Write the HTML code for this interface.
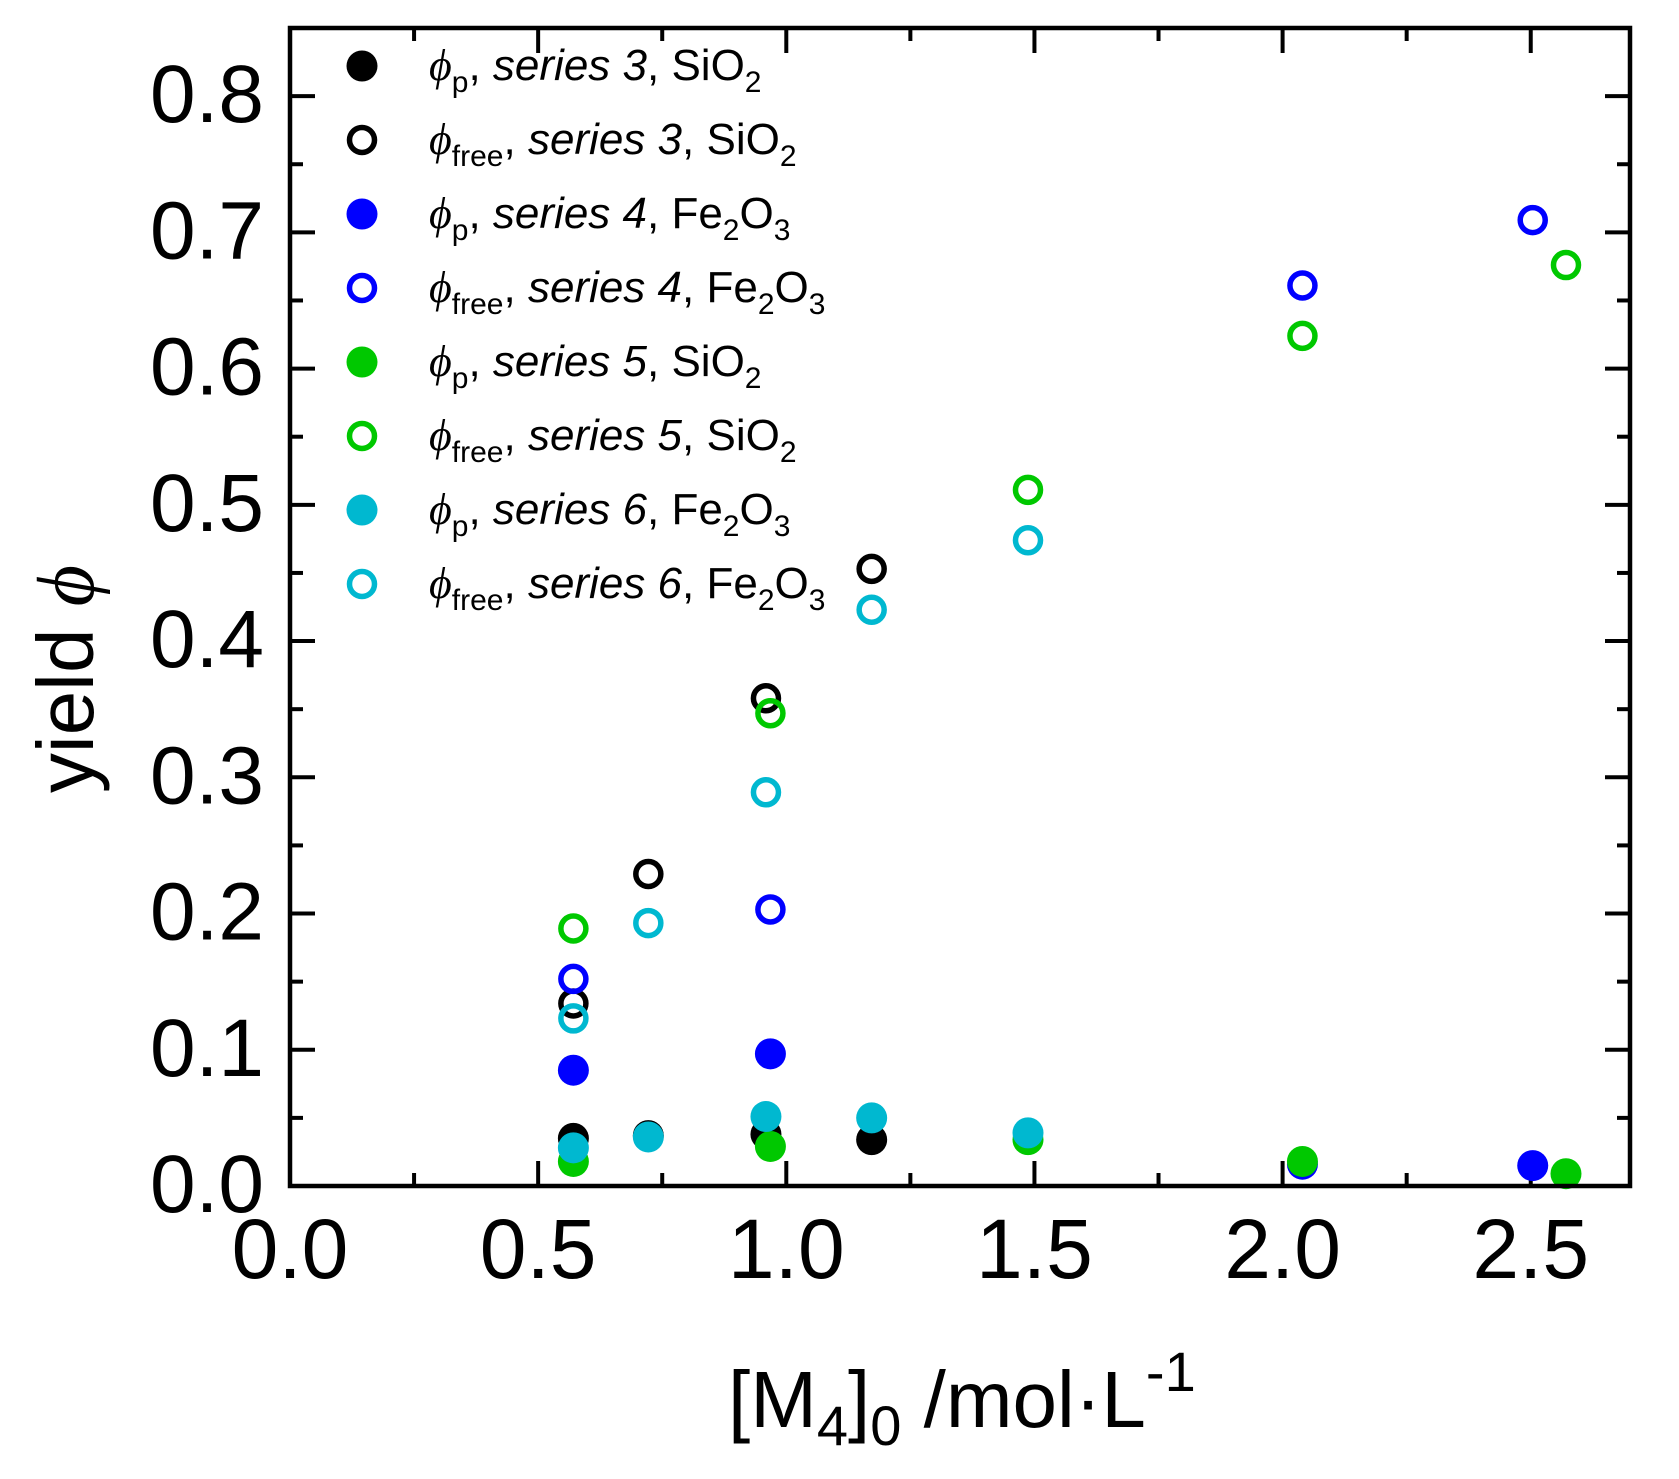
<!DOCTYPE html>
<html><head><meta charset="utf-8">
<style>
html,body{margin:0;padding:0;background:#fff;}
svg{display:block;font-family:"Liberation Sans",sans-serif;}
</style></head>
<body>
<svg id="chart" width="1679" height="1479" viewBox="0 0 1679 1479" xmlns="http://www.w3.org/2000/svg">
<g id="ticks"></g>
<g id="marks"></g>
<rect x="290" y="28" width="1340" height="1158" fill="none" stroke="#000" stroke-width="4.5"/>
<g id="legend"></g>
<text x="728" y="1427" font-size="80">[M<tspan font-size="56" dy="18">4</tspan><tspan dy="-18">]</tspan><tspan font-size="56" dy="18">0</tspan><tspan dy="-18"> /mol·L</tspan><tspan font-size="56" dy="-36">-1</tspan></text>
<text transform="translate(93,679) rotate(-90)" text-anchor="middle" font-size="80">yield <tspan font-style="italic" font-family="'Liberation Serif','DejaVu Serif',serif">ϕ</tspan></text>
</svg>
<script>
const xMin = 0, xMax = 2.7, yMin = 0, yMax = 0.85;
const xTickLabels = ["0.0","0.5","1.0","1.5","2.0","2.5"];
const yTickLabels = ["0.0","0.1","0.2","0.3","0.4","0.5","0.6","0.7","0.8"];
const seriesNames = ["series 3","series 3","series 4","series 4","series 5","series 5","series 6","series 6"];
const s3pX = [0.571,0.722,0.959,1.172];
const s3pY = [0.035,0.037,0.038,0.034];
const s3fX = [0.571,0.722,0.959,1.172];
const s3fY = [0.134,0.229,0.358,0.453];
const s4pX = [0.571,0.968,2.040,2.504];
const s4pY = [0.085,0.097,0.016,0.015];
const s4fX = [0.571,0.968,2.040,2.504];
const s4fY = [0.152,0.203,0.661,0.709];
const s5pX = [0.571,0.968,1.487,2.040,2.571];
const s5pY = [0.018,0.029,0.034,0.018,0.009];
const s5fX = [0.571,0.968,1.487,2.040,2.571];
const s5fY = [0.189,0.347,0.511,0.624,0.676];
const s6pX = [0.571,0.722,0.959,1.172,1.487];
const s6pY = [0.028,0.036,0.051,0.050,0.039];
const s6fX = [0.571,0.722,0.959,1.172,1.487];
const s6fY = [0.123,0.193,0.289,0.423,0.474];

const NS = "http://www.w3.org/2000/svg";
const L = 290, R = 1630, T = 28, B = 1186;
function xs(v){ return L + (v - xMin) / (xMax - xMin) * (R - L); }
function ys(v){ return B - (v - yMin) / (yMax - yMin) * (B - T); }
function mk(tag, attrs, parent){ const e = document.createElementNS(NS, tag); for (const k in attrs) e.setAttribute(k, attrs[k]); parent.appendChild(e); return e; }

const tg = document.getElementById("ticks");
for (let i = 0; i <= 10; i++) {
  const v = i * 0.25; if (v > xMax) break;
  const x = xs(v), len = i % 2 === 0 ? 25 : 13;
  const t1 = mk("line", {x1:x, y1:B, x2:x, y2:B-len, stroke:"#000", "stroke-width":4}, tg);
  
  
  const t2 = mk("line", {x1:x, y1:T, x2:x, y2:T+len, stroke:"#000", "stroke-width":4}, tg);
  
  
}
xTickLabels.forEach((lab, i) => {
  const t = mk("text", {x:xs(i*0.5), y:1278, "text-anchor":"middle", "font-size":84}, tg);
  t.textContent = lab;
  
  
});
for (let i = 0; i <= 17; i++) {
  const v = i * 0.05; if (v > yMax + 1e-9) break;
  const y = ys(v), len = i % 2 === 0 ? 25 : 13;
  const t1 = mk("line", {x1:L, y1:y, x2:L+len, y2:y, stroke:"#000", "stroke-width":4}, tg);
  
  
  const t2 = mk("line", {x1:R, y1:y, x2:R-len, y2:y, stroke:"#000", "stroke-width":4}, tg);
  
  
}
yTickLabels.forEach((lab, i) => {
  const t = mk("text", {x:264, y:ys(i*0.1)+26, "text-anchor":"end", "font-size":82}, tg);
  t.textContent = lab;
  
  
});

const colors = ["#000000","#000000","#0000ff","#0000ff","#00c800","#00c800","#00b8d0","#00b8d0"];
const filled = [true,false,true,false,true,false,true,false];
const allX = [s3pX,s3fX,s4pX,s4fX,s5pX,s5fX,s6pX,s6fX];
const allY = [s3pY,s3fY,s4pY,s4fY,s5pY,s5fY,s6pY,s6fY];
const mg = document.getElementById("marks");
function marker(parent, x, y, col, fill){
  if (fill) return mk("circle", {cx:x, cy:y, r:15.5, fill:col}, parent);
  return mk("circle", {cx:x, cy:y, r:12.5, fill:"none", stroke:col, "stroke-width":5.5}, parent);
}
[0,2,4,6,1,3,5,7].forEach(s => {
  allX[s].forEach((xv, j) => {
    const c = marker(mg, xs(xv), ys(allY[s][j]), colors[s], filled[s]);
    
    
  });
});

const lg = document.getElementById("legend");
const mats = [["SiO","2",""],["SiO","2",""],["Fe","2","O3"],["Fe","2","O3"],["SiO","2",""],["SiO","2",""],["Fe","2","O3"],["Fe","2","O3"]];
for (let s = 0; s < 8; s++) {
  const cy = 66 + s * 74;
  const m = marker(lg, 362, cy, colors[s], filled[s]);
  
  
  const t = mk("text", {x:429, y:cy+14, "font-size":44}, lg);
  
  
  const sub = filled[s] ? "p" : "free";
  const mat = mats[s];
  let html = '<tspan font-style="italic" font-family="\'Liberation Serif\',\'DejaVu Serif\',serif">ϕ</tspan>'
    + '<tspan font-size="30" dy="12">' + sub + '</tspan><tspan dy="-12">, </tspan>'
    + '<tspan font-style="italic">' + seriesNames[s] + '</tspan>, ' + mat[0]
    + '<tspan font-size="30" dy="12">' + mat[1] + '</tspan>';
  if (mat[2]) html += '<tspan dy="-12">O</tspan><tspan font-size="30" dy="12">3</tspan>';
  t.innerHTML = html;
}
</script>
</body></html>
